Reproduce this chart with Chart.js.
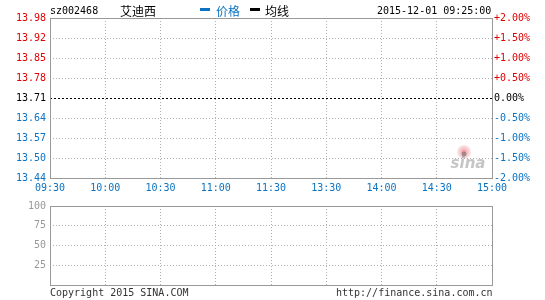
<!DOCTYPE html>
<html>
<head>
<meta charset="utf-8">
<script src="https://cdn.jsdelivr.net/npm/chart.js@4"></script>
<style>
  body { margin: 0; background: #fff; }
  #wrap { position: relative; width: 545px; height: 300px; overflow: hidden; font-family: "DejaVu Sans Mono", monospace; font-size: 10px; }
  #wrap canvas { position: absolute; left: 0; }
  .t { position: absolute; white-space: nowrap; line-height: 12px; }
  .cjk { font-family: "Noto Sans CJK SC", sans-serif; font-size: 12px; line-height: 14px; }
  .dash { position: absolute; width: 10px; height: 3px; }
</style>
</head>
<body>
<div id="wrap">
  <canvas id="priceChart" width="545" height="196" style="top:0"></canvas>
  <canvas id="volChart" width="545" height="104" style="top:196px"></canvas>

  <div class="t" style="left:50px;top:5px;color:#000">sz002468</div>
  <div class="t cjk" style="left:120px;top:4px;color:#000">艾迪西</div>
  <div class="dash" style="left:200px;top:8px;background:#0b73c2"></div>
  <div class="t cjk" style="left:216px;top:4px;color:#0b73c2">价格</div>
  <div class="dash" style="left:250px;top:8px;background:#000"></div>
  <div class="t cjk" style="left:265px;top:4px;color:#000">均线</div>
  <div class="t" style="left:377px;top:5px;color:#000">2015-12-01 09:25:00</div>

  <div class="t" style="left:50px;top:287px;color:#333">Copyright 2015 SINA.COM</div>
  <div class="t" style="left:336px;top:287px;color:#333">http://finance.sina.com.cn</div>
</div>
<script>
// time axis
const times = ['09:30', '10:00', '10:30', '11:00', '11:30', '13:30', '14:00', '14:30', '15:00'];
// percent change ticks (prev close 13.71)
const pctTicks = [-2, -1.5, -1, -0.5, 0, 0.5, 1, 1.5, 2];
const priceLabels = ['13.44', '13.50', '13.57', '13.64', '13.71', '13.78', '13.85', '13.92', '13.98'];
const pctLabels = ['-2.00%', '-1.50%', '-1.00%', '-0.50%', '0.00%', '+0.50%', '+1.00%', '+1.50%', '+2.00%'];
// volume panel ticks
const volTicks = [0, 25, 50, 75, 100];
const volLabels = ['', '25', '50', '75', '100'];
// no trades yet at 09:25
const price = [];
const avgPrice = [];
const volume = [];

const RED = '#e00000';
const BLUE = '#0b73c2';
const GRID = '#b0b0b0';

Chart.defaults.font.family = '"DejaVu Sans Mono", monospace';
Chart.defaults.font.size = 10;
Chart.defaults.animation = false;

function signColor(ctx) {
  var v = ctx.tick ? ctx.tick.value : 0;
  if (v > 0) return RED;
  if (v < 0) return BLUE;
  return '#000';
}

var frame = {
  id: 'frame',
  afterDraw(chart) {
    var a = chart.chartArea;
    var ctx = chart.ctx;
    ctx.save();
    ctx.strokeStyle = '#999';
    ctx.lineWidth = 1;
    ctx.strokeRect(Math.round(a.left) + 0.5, Math.round(a.top) + 0.5,
      Math.round(a.right - a.left), Math.round(a.bottom - a.top));
    ctx.restore();
  }
};

var watermark = {
  id: 'watermark',
  beforeDatasetsDraw(chart) {
    var a = chart.chartArea;
    var ctx = chart.ctx;
    var x = a.right - 24, y = a.bottom - 16;
    ctx.save();
    var g = ctx.createRadialGradient(x - 4, y - 10, 1, x - 4, y - 10, 8);
    g.addColorStop(0, 'rgba(230,80,90,0.55)');
    g.addColorStop(1, 'rgba(240,150,160,0.15)');
    ctx.fillStyle = g;
    ctx.beginPath();
    ctx.arc(x - 4, y - 10, 7, 0, Math.PI * 2);
    ctx.fill();
    ctx.fillStyle = 'rgba(110,110,110,0.6)';
    ctx.beginPath();
    ctx.arc(x - 4, y - 8, 2.5, 0, Math.PI * 2);
    ctx.fill();
    ctx.font = 'italic bold 15px "DejaVu Sans", sans-serif';
    ctx.fillStyle = 'rgba(150,150,150,0.55)';
    ctx.textAlign = 'center';
    ctx.textBaseline = 'middle';
    ctx.fillText('sina', x, y + 2);
    ctx.restore();
  }
};

function fixWidth(w) { return function (s) { s.width = w; }; }
function fixHeight(h) { return function (s) { s.height = h; }; }

new Chart(document.getElementById('priceChart'), {
  type: 'line',
  data: {
    labels: times,
    datasets: [
      { label: '价格', data: price, borderColor: BLUE, borderWidth: 1, pointRadius: 0, yAxisID: 'y' },
      { label: '均线', data: avgPrice, borderColor: '#000', borderWidth: 1, pointRadius: 0, yAxisID: 'y' }
    ]
  },
  options: {
    responsive: false,
    layout: { padding: { top: 18, left: 0, right: 0, bottom: 0 } },
    plugins: { legend: { display: false }, tooltip: { enabled: false } },
    scales: {
      x: {
        type: 'category',
        offset: false,
        afterFit: fixHeight(18),
        grid: { color: GRID, drawTicks: false },
        border: { display: false, dash: [1, 2] },
        ticks: { color: BLUE, padding: 4, autoSkip: false, maxRotation: 0 }
      },
      y: {
        position: 'left',
        min: -2, max: 2,
        afterFit: fixWidth(50),
        afterBuildTicks: function (s) { s.ticks = pctTicks.map(v => ({ value: v })); },
        grid: {
          drawTicks: false,
          color: ctx => (ctx.tick && ctx.tick.value === 0) ? '#000' : GRID
        },
        border: {
          display: false,
          dash: ctx => (ctx.tick && ctx.tick.value === 0) ? [2, 2] : [1, 2]
        },
        ticks: {
          padding: 4,
          color: signColor,
          callback: (v, i) => priceLabels[i]
        }
      },
      y2: {
        position: 'right',
        min: -2, max: 2,
        afterFit: fixWidth(53),
        afterBuildTicks: function (s) { s.ticks = pctTicks.map(v => ({ value: v })); },
        grid: { display: false, drawTicks: false },
        border: { display: false },
        ticks: {
          padding: 2,
          color: signColor,
          callback: (v, i) => pctLabels[i]
        }
      }
    }
  },
  plugins: [watermark, frame]
});

new Chart(document.getElementById('volChart'), {
  type: 'bar',
  data: {
    labels: times,
    datasets: [{ label: 'volume', data: volume, backgroundColor: BLUE }]
  },
  options: {
    responsive: false,
    layout: { padding: { top: 6, left: 0, right: 53, bottom: 15 } },
    plugins: { legend: { display: false }, tooltip: { enabled: false } },
    scales: {
      x: {
        type: 'category',
        offset: false,
        afterFit: fixHeight(0),
        grid: { color: GRID, drawTicks: false, offset: false },
        border: { display: false, dash: [1, 2] },
        ticks: { display: false, autoSkip: false }
      },
      y: {
        position: 'left',
        min: 0, max: 100,
        afterFit: fixWidth(50),
        afterBuildTicks: function (s) { s.ticks = volTicks.map(v => ({ value: v })); },
        grid: { color: GRID, drawTicks: false },
        border: { display: false, dash: [1, 2] },
        ticks: {
          padding: 4,
          color: '#999',
          callback: (v, i) => volLabels[i]
        }
      }
    }
  },
  plugins: [frame]
});
</script>
</body>
</html>
